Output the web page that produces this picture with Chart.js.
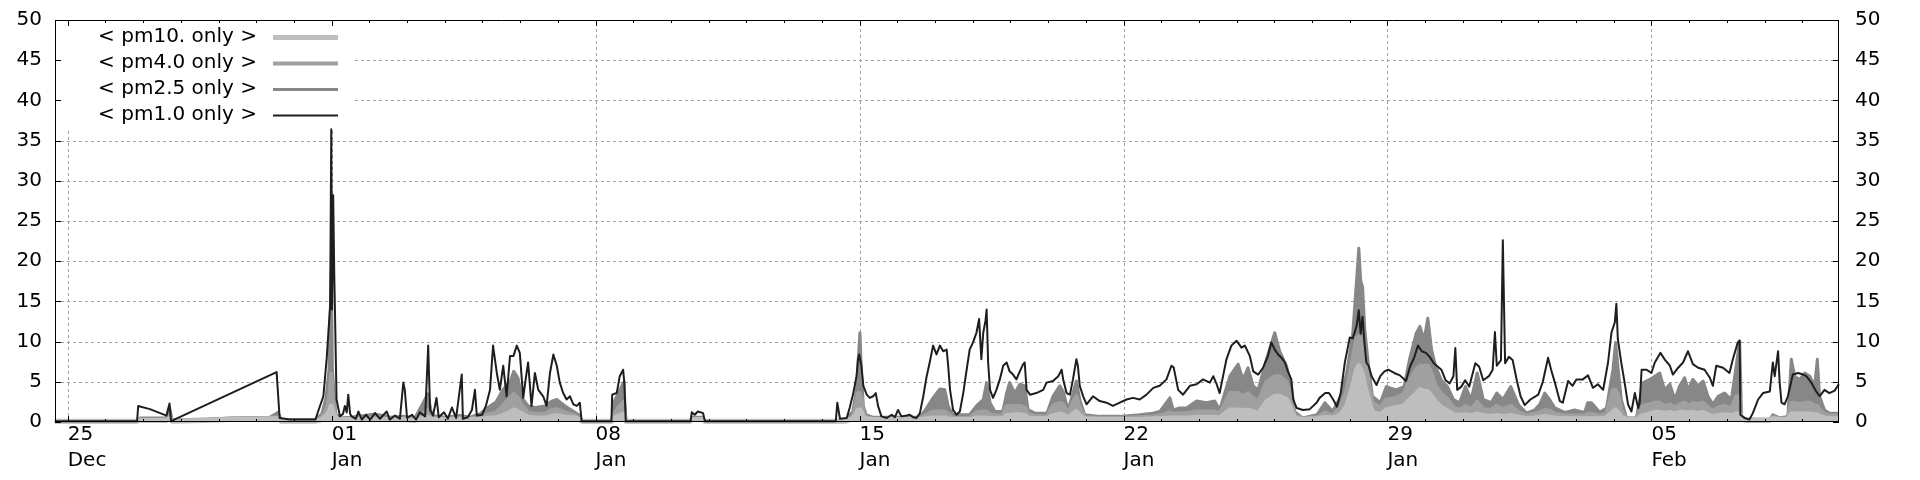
<!DOCTYPE html>
<html><head><meta charset="utf-8">
<script src="https://cdn.jsdelivr.net/npm/chart.js@4.4.1/dist/chart.umd.min.js"></script>
<style>html,body{margin:0;padding:0;background:#fff;}canvas{display:block;}</style>
</head><body>
<canvas id="c" width="1920" height="480"></canvas>
<script>
// ---- labels / axes ----
const seriesNames  = ['< pm10. only >', '< pm4.0 only >', '< pm2.5 only >', '< pm1.0 only >'];
const seriesColors = ['#bebebe', '#a0a0a0', '#878787', '#1e1e1e'];
const seriesWidths = [5, 4, 3, 2];
// x values are days after 25 Dec 00:00
const xRange     = [-0.337, 46.975];
const tickDays   = [0, 7, 14, 21, 28, 35, 42];
const tickLabels = [['25','Dec'], ['01','Jan'], ['08','Jan'], ['15','Jan'], ['22','Jan'], ['29','Jan'], ['05','Feb']];
const yRange     = [0, 50];
const yStep      = 5;

// ---- pm1.0 only : [day, value] ----
const pm1Points = [
[-0.34,0.1],[0.86,0.1],[1.84,0.1],[1.87,2.0],[2.18,1.6],[2.45,1.1],[2.62,0.8],[2.70,2.3],[2.74,0.1],[5.54,6.2],
[5.62,0.5],[5.89,0.3],[6.57,0.3],[6.64,1.3],[6.78,3.2],[6.87,8.0],[6.96,14.5],[6.99,36.4],[7.01,14.0],[7.04,28.2],
[7.07,18.0],[7.09,13.2],[7.13,2.8],[7.22,0.7],[7.30,1.0],[7.35,2.0],[7.40,1.2],[7.44,3.4],[7.49,1.0],[7.53,0.7],
[7.64,0.4],[7.71,1.3],[7.80,0.3],[7.91,0.9],[8.02,0.3],[8.15,1.1],[8.28,0.4],[8.46,1.3],[8.54,0.3],[8.68,0.8],
[8.81,0.4],[8.90,4.9],[8.94,4.0],[9.00,0.5],[9.13,0.9],[9.24,0.3],[9.34,1.2],[9.48,0.7],[9.56,9.5],[9.61,1.5],
[9.69,0.8],[9.78,3.0],[9.84,0.6],[9.98,1.2],[10.08,0.4],[10.19,1.8],[10.30,0.5],[10.45,5.9],[10.48,0.4],[10.61,0.6],
[10.72,1.5],[10.80,4.0],[10.85,0.8],[10.99,0.9],[11.09,2.0],[11.20,4.0],[11.28,9.5],[11.38,6.1],[11.46,4.0],[11.55,7.0],
[11.64,3.2],[11.73,8.2],[11.82,8.2],[11.91,9.5],[11.99,8.6],[12.08,3.0],[12.15,5.5],[12.21,7.4],[12.30,2.0],[12.39,6.1],
[12.48,4.0],[12.61,3.2],[12.70,2.0],[12.79,6.1],[12.88,8.4],[12.97,7.0],[13.05,4.9],[13.14,3.6],[13.23,2.8],[13.32,3.2],
[13.41,2.2],[13.50,2.0],[13.58,2.4],[13.63,0.1],[14.42,0.1],[14.44,3.4],[14.56,3.6],[14.64,5.7],[14.73,6.5],[14.76,5.0],
[14.80,0.1],[16.52,0.1],[16.55,1.2],[16.63,0.9],[16.71,1.3],[16.85,1.1],[16.90,0.1],[20.37,0.1],[20.41,2.4],[20.48,0.4],
[20.66,0.5],[20.74,1.8],[20.83,3.5],[20.92,5.7],[20.96,7.8],[20.99,8.4],[21.05,7.0],[21.10,4.5],[21.19,3.4],[21.27,3.0],
[21.36,3.2],[21.43,3.6],[21.49,2.0],[21.58,0.7],[21.72,0.5],[21.85,0.9],[21.94,0.6],[22.02,1.5],[22.11,0.7],[22.25,0.8],
[22.33,0.9],[22.42,0.6],[22.51,0.5],[22.60,1.1],[22.69,3.2],[22.78,5.7],[22.86,7.4],[22.95,9.5],[23.04,8.4],[23.13,9.5],
[23.22,8.8],[23.31,9.0],[23.35,7.0],[23.40,4.0],[23.48,1.5],[23.57,0.9],[23.66,1.3],[23.75,3.6],[23.84,6.5],[23.92,9.0],
[24.01,9.9],[24.10,11.1],[24.17,12.8],[24.23,7.8],[24.28,11.1],[24.34,12.6],[24.37,14.0],[24.41,7.4],[24.46,4.0],[24.54,3.0],
[24.63,4.0],[24.72,5.3],[24.81,7.0],[24.90,7.4],[24.98,6.3],[25.07,5.9],[25.16,5.3],[25.25,6.3],[25.34,7.2],[25.38,7.4],
[25.43,4.0],[25.52,3.4],[25.69,3.6],[25.87,4.0],[25.96,4.9],[26.13,5.1],[26.27,5.7],[26.36,6.5],[26.40,5.3],[26.49,3.6],
[26.58,3.4],[26.66,5.3],[26.75,7.8],[26.79,7.0],[26.84,4.5],[26.93,3.2],[27.02,2.2],[27.19,3.2],[27.37,2.6],[27.55,2.4],
[27.72,2.0],[27.90,2.4],[28.08,2.8],[28.25,3.0],[28.43,2.8],[28.61,3.4],[28.79,4.25],[28.96,4.5],[29.14,5.3],[29.27,7.0],
[29.33,6.8],[29.45,4.0],[29.58,3.4],[29.76,4.5],[29.94,4.7],[30.11,5.3],[30.29,4.9],[30.38,5.7],[30.47,4.7],[30.55,3.6],
[30.64,5.7],[30.73,7.8],[30.86,9.5],[31.00,10.1],[31.13,9.25],[31.22,9.5],[31.35,8.2],[31.44,6.3],[31.57,5.9],[31.70,6.75],
[31.83,8.2],[31.92,9.9],[32.01,9.0],[32.10,8.4],[32.19,8.0],[32.28,7.4],[32.36,6.3],[32.45,5.3],[32.50,2.8],[32.59,1.75],
[32.76,1.5],[32.94,1.6],[33.12,2.4],[33.20,3.0],[33.35,3.6],[33.45,3.6],[33.56,2.8],[33.66,1.9],[33.76,3.6],[33.87,7.4],
[34.00,10.5],[34.08,10.4],[34.18,11.9],[34.24,13.9],[34.29,11.0],[34.34,13.1],[34.39,9.8],[34.44,7.4],[34.50,7.0],[34.58,5.7],
[34.71,4.6],[34.81,5.7],[34.92,6.3],[35.02,6.5],[35.18,6.1],[35.33,5.8],[35.49,5.1],[35.60,6.9],[35.70,7.9],[35.81,9.5],
[35.91,8.8],[36.02,8.6],[36.12,8.1],[36.23,7.3],[36.33,6.9],[36.43,6.5],[36.54,5.2],[36.65,4.8],[36.75,5.7],[36.80,9.2],
[36.85,4.0],[36.96,4.4],[37.06,5.2],[37.17,4.4],[37.33,7.3],[37.43,6.9],[37.54,5.2],[37.69,5.7],[37.79,6.5],[37.85,11.2],
[37.90,7.0],[38.01,7.7],[38.06,22.6],[38.09,14.8],[38.12,7.3],[38.22,8.1],[38.32,7.7],[38.43,5.2],[38.53,3.2],[38.64,2.1],
[38.79,2.8],[39.00,3.4],[39.12,5.0],[39.26,8.0],[39.34,6.5],[39.44,4.9],[39.57,2.6],[39.65,2.4],[39.79,5.1],[39.91,4.5],
[40.01,5.3],[40.18,5.3],[40.32,5.8],[40.45,4.25],[40.58,4.7],[40.72,4.0],[40.85,7.4],[40.94,11.1],[41.03,12.4],[41.07,14.7],
[41.11,10.3],[41.20,7.4],[41.29,4.9],[41.38,2.2],[41.47,1.3],[41.56,3.6],[41.65,1.75],[41.69,2.4],[41.74,6.5],[41.87,6.5],
[42.00,6.1],[42.09,7.4],[42.24,8.6],[42.35,7.8],[42.49,7.0],[42.57,5.9],[42.71,6.75],[42.84,7.4],[42.97,8.8],[43.10,7.2],
[43.24,6.75],[43.41,6.5],[43.55,5.5],[43.63,4.5],[43.72,7.0],[43.90,6.75],[44.07,6.1],[44.16,7.8],[44.29,9.9],[44.34,10.1],
[44.36,0.9],[44.47,0.5],[44.60,0.3],[44.69,1.1],[44.83,2.8],[44.96,3.6],[45.14,3.8],[45.22,7.4],[45.27,5.7],[45.36,8.8],
[45.40,5.0],[45.45,2.4],[45.53,2.2],[45.62,3.2],[45.75,5.9],[45.89,6.1],[46.02,5.9],[46.11,5.7],[46.24,4.9],[46.37,3.8],
[46.46,3.2],[46.59,4.0],[46.72,3.6],[46.86,3.9],[46.97,4.7]
];

// ---- pm2.5 / pm4.0 / pm10 only : upper level of each band, on a shared time list ----
const grayTimes = [
-0.34, 1.84, 1.92, 2.61, 2.70, 2.77, 3.64, 4.30, 5.36, 5.58,
5.66, 6.58, 6.74, 6.85, 6.93, 6.99, 7.02, 7.06, 7.11, 7.22,
7.49, 7.88, 8.15, 8.55, 8.94, 9.21, 9.55, 9.66, 10.00, 10.40,
10.67, 10.93, 11.20, 11.36, 11.54, 11.73, 11.83, 11.94, 12.05, 12.21,
12.39, 12.66, 12.84, 12.97, 13.19, 13.45, 13.58, 13.64, 14.43, 14.49,
14.64, 14.75, 14.80, 16.50, 16.55, 16.84, 16.90, 20.37, 20.64, 20.82,
20.92, 20.96, 21.01, 21.05, 21.10, 21.17, 21.35, 22.07, 22.60, 22.78,
22.95, 23.13, 23.26, 23.35, 23.47, 23.92, 24.10, 24.28, 24.37, 24.46,
24.59, 24.80, 24.90, 24.98, 25.12, 25.25, 25.38, 25.47, 25.65, 25.97,
26.13, 26.31, 26.40, 26.53, 26.66, 26.75, 26.84, 26.97, 27.37, 27.90,
28.43, 28.78, 28.96, 29.23, 29.32, 29.49, 29.67, 29.94, 30.20, 30.42,
30.55, 30.82, 31.04, 31.17, 31.30, 31.44, 31.57, 31.79, 32.01, 32.14,
32.32, 32.45, 32.54, 32.75, 33.13, 33.34, 33.55, 33.76, 33.92, 34.08,
34.18, 34.24, 34.29, 34.34, 34.40, 34.50, 34.60, 34.81, 34.97, 35.23,
35.44, 35.60, 35.76, 35.86, 35.97, 36.07, 36.17, 36.28, 36.43, 36.59,
36.75, 36.91, 37.07, 37.22, 37.38, 37.54, 37.75, 37.90, 38.06, 38.27,
38.48, 38.69, 38.90, 39.04, 39.17, 39.30, 39.44, 39.70, 39.96, 40.23,
40.31, 40.41, 40.63, 40.81, 40.89, 40.98, 41.05, 41.11, 41.20, 41.34,
41.60, 41.78, 41.96, 42.09, 42.22, 42.35, 42.49, 42.62, 42.75, 42.88,
42.97, 43.10, 43.24, 43.37, 43.50, 43.63, 43.77, 43.94, 44.12, 44.25,
44.34, 44.39, 44.52, 45.14, 45.22, 45.40, 45.62, 45.71, 45.80, 45.93,
46.07, 46.20, 46.33, 46.40, 46.46, 46.59, 46.72, 46.97
];
const pm25Values = [
0.1, 0.1, 0.5, 0.5, 1.8, 0.3, 0.3, 0.5, 0.6, 1.2,
0.3, 0.3, 1.0, 3.0, 6.5, 19.0, 6.5, 4.0, 1.0, 0.5,
0.6, 0.8, 1.0, 0.6, 0.7, 0.5, 3.5, 0.8, 0.6, 0.8,
0.6, 1.0, 2.0, 2.5, 4.0, 5.0, 6.3, 5.5, 3.0, 2.0,
1.8, 2.0, 2.6, 2.8, 2.0, 1.2, 0.8, 0.1, 0.1, 2.5,
4.0, 5.0, 0.1, 0.1, 0.6, 0.6, 0.1, 0.1, 0.3, 1.3,
4.0, 7.4, 11.1, 6.1, 2.0, 0.9, 0.6, 0.6, 0.6, 1.75,
3.0, 4.1, 4.0, 2.0, 0.9, 0.9, 2.0, 2.8, 4.9, 2.4,
1.3, 1.3, 3.6, 4.9, 3.6, 4.7, 4.5, 1.5, 1.1, 1.1,
3.2, 4.5, 3.8, 1.5, 3.6, 5.1, 2.8, 0.9, 0.7, 0.7,
0.9, 1.1, 1.3, 3.0, 1.5, 1.75, 1.75, 2.6, 2.4, 2.6,
1.5, 5.7, 7.2, 5.3, 6.75, 4.5, 4.0, 7.8, 11.1, 8.8,
7.0, 4.5, 1.3, 0.5, 0.9, 2.4, 1.3, 3.2, 6.1, 11.0,
17.6, 21.6, 17.6, 16.8, 11.4, 6.9, 3.2, 2.4, 4.4, 4.0,
4.4, 8.1, 11.0, 11.9, 10.2, 12.9, 9.0, 6.9, 5.2, 4.4,
2.8, 2.4, 4.4, 2.8, 6.1, 2.8, 2.4, 3.6, 2.8, 4.4,
2.1, 1.1, 1.5, 2.2, 3.6, 2.8, 1.75, 1.2, 1.5, 1.2,
2.4, 2.4, 1.2, 1.75, 4.0, 6.5, 9.9, 7.0, 2.8, 0.5,
0.5, 4.9, 5.3, 5.7, 6.1, 4.0, 4.7, 2.8, 4.5, 5.5,
4.0, 5.3, 4.5, 5.1, 3.2, 2.2, 3.2, 3.6, 2.8, 7.0,
10.1, 0.7, 0.3, 0.3, 0.9, 0.5, 0.7, 7.8, 5.7, 5.3,
6.1, 5.7, 4.5, 7.8, 3.2, 1.5, 1.1, 1.1
];
const pm40Values = [
0.1, 0.1, 0.3, 0.3, 0.8, 0.2, 0.3, 0.4, 0.5, 0.6,
0.2, 0.2, 0.6, 1.5, 3.0, 6.0, 3.5, 2.0, 0.6, 0.4,
0.4, 0.5, 0.6, 0.4, 0.4, 0.3, 1.5, 0.5, 0.4, 0.5,
0.4, 0.6, 1.0, 1.2, 2.0, 3.0, 3.5, 3.0, 2.0, 1.2,
1.0, 1.0, 1.5, 1.6, 1.2, 0.8, 0.5, 0.1, 0.1, 1.0,
2.0, 2.5, 0.1, 0.1, 0.4, 0.4, 0.1, 0.1, 0.2, 0.7,
2.5, 3.6, 3.6, 3.0, 1.2, 0.6, 0.4, 0.4, 0.4, 0.9,
1.3, 1.3, 1.3, 1.0, 0.5, 0.5, 1.2, 1.3, 1.3, 1.0,
0.8, 0.8, 2.0, 2.0, 2.0, 2.0, 1.8, 1.0, 0.7, 0.7,
2.0, 2.4, 2.2, 1.0, 2.5, 3.2, 1.8, 0.6, 0.5, 0.5,
0.6, 0.7, 0.8, 1.2, 1.0, 1.1, 1.1, 1.3, 1.3, 1.3,
1.0, 3.6, 3.6, 3.2, 3.6, 3.0, 2.5, 5.0, 5.7, 5.7,
5.0, 3.0, 0.9, 0.4, 0.6, 1.2, 0.8, 2.0, 4.0, 8.0,
10.5, 10.7, 10.5, 10.0, 8.0, 5.0, 2.4, 1.8, 2.8, 3.0,
3.5, 5.3, 6.5, 7.0, 7.0, 7.0, 6.0, 4.5, 3.5, 2.8,
1.8, 1.5, 2.0, 1.6, 2.5, 1.6, 1.5, 2.0, 1.6, 2.0,
1.2, 0.8, 1.0, 1.2, 1.5, 1.4, 1.0, 0.8, 0.8, 0.8,
1.0, 1.0, 0.8, 1.0, 2.5, 4.0, 4.0, 3.5, 1.5, 0.4,
0.4, 2.0, 2.2, 2.4, 2.4, 2.0, 2.2, 1.8, 2.2, 2.4,
2.0, 2.4, 2.2, 2.4, 1.8, 1.4, 1.8, 2.0, 1.6, 3.2,
3.2, 0.5, 0.3, 0.3, 0.6, 0.4, 0.5, 2.4, 2.4, 2.2,
2.4, 2.4, 2.0, 2.0, 1.5, 1.0, 0.8, 0.8
];
const pm100Values = [
0.1, 0.1, 0.2, 0.2, 0.4, 0.1, 0.2, 0.3, 0.4, 0.4,
0.1, 0.1, 0.3, 0.7, 1.2, 2.0, 1.5, 1.0, 0.4, 0.3,
0.3, 0.3, 0.3, 0.3, 0.3, 0.2, 0.6, 0.3, 0.3, 0.3,
0.3, 0.3, 0.5, 0.5, 0.8, 1.2, 1.5, 1.3, 1.0, 0.6,
0.5, 0.5, 0.7, 0.8, 0.6, 0.5, 0.3, 0.1, 0.1, 0.5,
0.8, 1.0, 0.1, 0.1, 0.3, 0.3, 0.1, 0.1, 0.1, 0.4,
1.0, 1.5, 1.5, 1.2, 0.6, 0.4, 0.3, 0.3, 0.3, 0.4,
0.5, 0.5, 0.5, 0.4, 0.3, 0.3, 0.5, 0.5, 0.5, 0.4,
0.4, 0.4, 0.8, 0.8, 0.9, 0.9, 0.8, 0.5, 0.4, 0.4,
0.8, 1.0, 0.9, 0.5, 1.0, 1.3, 0.8, 0.4, 0.3, 0.3,
0.3, 0.4, 0.4, 0.5, 0.5, 0.5, 0.5, 0.6, 0.6, 0.6,
0.5, 1.5, 1.5, 1.4, 1.5, 1.3, 1.0, 2.5, 3.2, 3.2,
2.8, 1.5, 0.5, 0.3, 0.4, 0.6, 0.5, 0.9, 2.0, 4.5,
6.5, 7.0, 6.5, 6.0, 4.5, 2.8, 1.2, 0.9, 1.5, 1.8,
2.0, 2.8, 3.5, 4.0, 3.8, 3.8, 3.2, 2.5, 1.8, 1.4,
0.9, 0.8, 0.9, 0.8, 1.0, 0.8, 0.7, 0.8, 0.7, 0.8,
0.6, 0.4, 0.5, 0.6, 0.7, 0.6, 0.5, 0.4, 0.4, 0.4,
0.4, 0.4, 0.4, 0.5, 0.9, 1.2, 1.5, 1.2, 0.6, 0.3,
0.3, 0.8, 1.0, 1.2, 1.2, 1.1, 1.2, 1.0, 1.2, 1.2,
1.1, 1.2, 1.1, 1.2, 0.9, 0.7, 0.8, 0.9, 0.8, 1.0,
1.0, 0.3, 0.2, 0.2, 0.4, 0.3, 0.3, 1.0, 1.0, 1.0,
1.0, 1.0, 0.9, 0.9, 0.7, 0.5, 0.4, 0.4
];

// ---- helpers ----
const FONT = 'DejaVu Sans';
const toXY = (times, vals) => times.map((t, i) => ({x: t, y: vals[i]}));
const pairsXY = pairs => pairs.map(p => ({x: p[0], y: p[1]}));

const gnuplotLook = {
  id: 'gnuplotLook',
  beforeDatasetsDraw(chart) {
    const {ctx, chartArea: a, scales} = chart;
    const x = scales.x, y = scales.y;
    ctx.save();
    ctx.strokeStyle = '#a0a0a0';
    ctx.lineWidth = 1;
    ctx.setLineDash([3, 3]);
    ctx.beginPath();
    y.ticks.forEach(t => {
      if (t.value <= yRange[0] || t.value >= yRange[1]) return;
      const py = Math.round(y.getPixelForValue(t.value)) + 0.5;
      ctx.moveTo(a.left, py); ctx.lineTo(a.right, py);
    });
    x.ticks.forEach(t => {
      const px = Math.round(x.getPixelForValue(t.value)) + 0.5;
      ctx.moveTo(px, a.bottom); ctx.lineTo(px, a.top);
    });
    ctx.stroke();
    ctx.setLineDash([]);
    // opaque key box
    ctx.fillStyle = '#ffffff';
    ctx.fillRect(a.left + 1, a.top + 1, 296, 107);
    ctx.restore();
  },
  afterDatasetsDraw(chart) {
    const {ctx, chartArea: a, scales} = chart;
    const x = scales.x, y = scales.y;
    const L = a.left, R = a.right, T = a.top, B = a.bottom;
    ctx.save();
    ctx.strokeStyle = '#000';
    ctx.lineWidth = 1;
    ctx.beginPath();
    ctx.moveTo(L + 0.5, T + 0.5); ctx.lineTo(R - 0.5, T + 0.5);
    ctx.lineTo(R - 0.5, B - 0.5); ctx.lineTo(L + 0.5, B - 0.5); ctx.closePath();
    y.ticks.forEach(t => {
      const py = Math.round(y.getPixelForValue(t.value)) + 0.5;
      ctx.moveTo(L, py); ctx.lineTo(L + 6, py);
      ctx.moveTo(R, py); ctx.lineTo(R - 6, py);
    });
    for (let d = Math.ceil(xRange[0]); d <= Math.floor(xRange[1]); d++) {
      const len = tickDays.includes(d) ? 6 : 3;
      const px = Math.round(x.getPixelForValue(d)) + 0.5;
      ctx.moveTo(px, B); ctx.lineTo(px, B - len);
      ctx.moveTo(px, T); ctx.lineTo(px, T + len);
    }
    ctx.stroke();
    // key
    ctx.font = '20px "' + FONT + '"';
    ctx.fillStyle = '#000';
    ctx.textAlign = 'right';
    ctx.textBaseline = 'middle';
    seriesNames.forEach((name, i) => {
      const cy = T + 17 + i * 26;
      ctx.fillText(name, L + 202, cy);
      ctx.strokeStyle = seriesColors[i];
      ctx.lineWidth = seriesWidths[i];
      ctx.beginPath();
      ctx.moveTo(L + 218, cy + 0.5); ctx.lineTo(L + 283, cy + 0.5);
      ctx.stroke();
    });
    ctx.restore();
  }
};

const tickFont = {family: FONT, size: 20, lineHeight: 1.3};
const fitY = w => s => { s.width = w; s.paddingTop = 0; s.paddingBottom = 0; };

new Chart(document.getElementById('c'), {
  type: 'line',
  data: {
    datasets: [
      {label: seriesNames[3], data: pairsXY(pm1Points), borderColor: seriesColors[3], borderWidth: seriesWidths[3],
       pointRadius: 0, fill: false, tension: 0, borderJoinStyle: 'round', clip: 4},
      {label: seriesNames[0], data: toXY(grayTimes, pm100Values), borderColor: seriesColors[0], backgroundColor: seriesColors[0],
       borderWidth: seriesWidths[0], pointRadius: 0, fill: 'origin', tension: 0, borderJoinStyle: 'round', clip: 4},
      {label: seriesNames[1], data: toXY(grayTimes, pm40Values), borderColor: seriesColors[1], backgroundColor: seriesColors[1],
       borderWidth: seriesWidths[1], pointRadius: 0, fill: 'origin', tension: 0, borderJoinStyle: 'round', clip: 4},
      {label: seriesNames[2], data: toXY(grayTimes, pm25Values), borderColor: seriesColors[2], backgroundColor: seriesColors[2],
       borderWidth: seriesWidths[2], pointRadius: 0, fill: 'origin', tension: 0, borderJoinStyle: 'round', clip: 4}
    ]
  },
  options: {
    responsive: false,
    animation: false,
    devicePixelRatio: 1,
    layout: {padding: {top: 20, left: 0, right: 0, bottom: 0}},
    plugins: {legend: {display: false}, tooltip: {enabled: false}},
    scales: {
      x: {
        type: 'linear', min: xRange[0], max: xRange[1],
        grid: {display: false, drawTicks: false}, border: {display: false},
        afterBuildTicks: s => { s.ticks = tickDays.map(v => ({value: v})); },
        afterFit: s => { s.height = 58; s.paddingLeft = 0; s.paddingRight = 0; },
        ticks: {autoSkip: false, maxRotation: 0, minRotation: 0, align: 'start', padding: 0,
                font: tickFont, color: '#000', callback: (v, i) => tickLabels[i]}
      },
      y: {
        position: 'left', min: yRange[0], max: yRange[1],
        grid: {display: false, drawTicks: false}, border: {display: false},
        afterFit: fitY(55),
        ticks: {stepSize: yStep, padding: 13, font: tickFont, color: '#000', autoSkip: false}
      },
      y2: {
        position: 'right', min: yRange[0], max: yRange[1],
        grid: {display: false, drawTicks: false}, border: {display: false},
        afterFit: fitY(81),
        ticks: {stepSize: yStep, padding: 16, font: tickFont, color: '#000', autoSkip: false}
      }
    }
  },
  plugins: [gnuplotLook]
});
</script>
</body></html>
